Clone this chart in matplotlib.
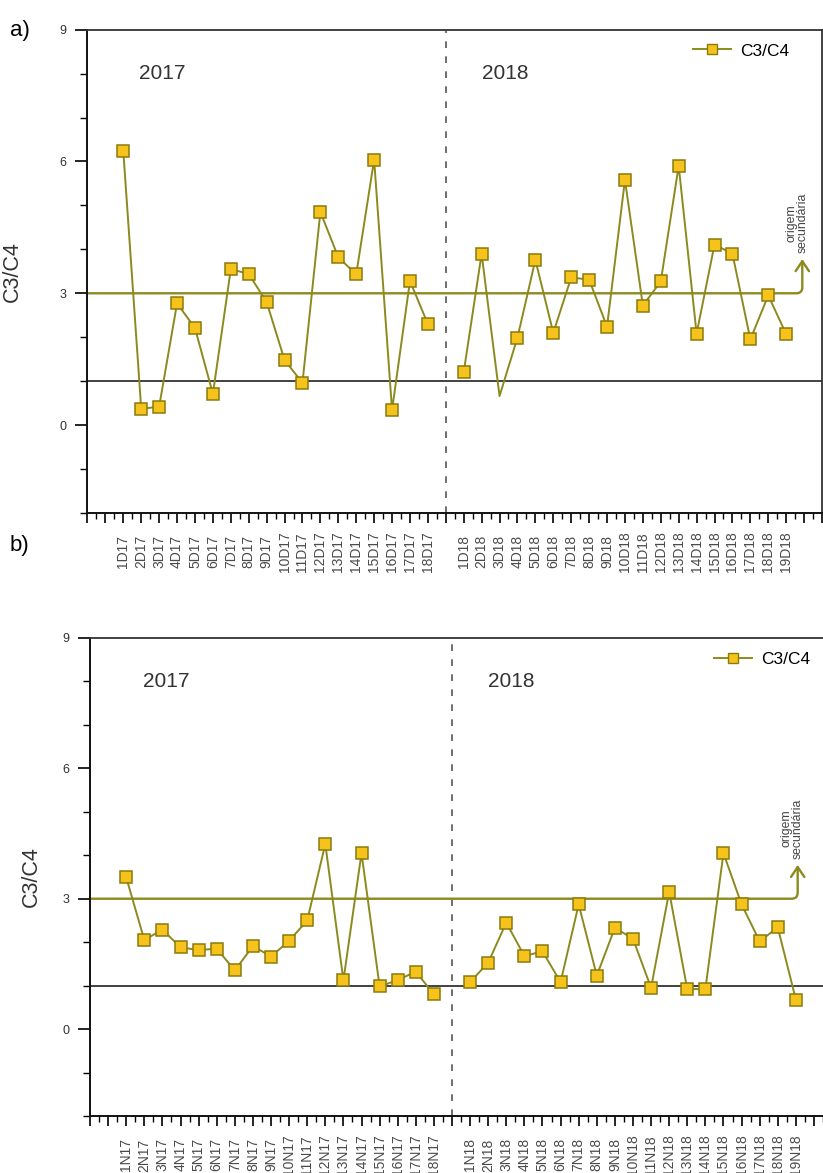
import numpy as np
import matplotlib
matplotlib.use('Agg')
import matplotlib.pyplot as plt
from matplotlib.lines import Line2D

plt.rcParams['font.family'] = ['Liberation Sans', 'DejaVu Sans']

# panel a) - D samples
labels_a_2017 = [f'{i}D17' for i in range(1, 19)]
labels_a_2018 = [f'{i}D18' for i in range(1, 20)]
values_a_2017 = [6.23, 0.37, 0.42, 2.77, 2.21, 0.71, 3.55, 3.44, 2.80, 1.48,
                 0.96, 4.85, 3.82, 3.43, 6.04, 0.34, 3.28, 2.30]
values_a_2018 = [1.20, 3.90, 0.66, 1.99, 3.76, 2.10, 3.36, 3.31, 2.24, 5.58,
                 2.72, 3.27, 5.90, 2.08, 4.11, 3.90, 1.95, 2.95, 2.07]
no_marker_a = ['3D18']

# panel b) - N samples
labels_b_2017 = [f'{i}N17' for i in range(1, 19)]
labels_b_2018 = [f'{i}N18' for i in range(1, 20)]
values_b_2017 = [3.49, 2.05, 2.29, 1.88, 1.82, 1.85, 1.35, 1.91, 1.67, 2.03,
                 2.50, 4.26, 1.12, 4.05, 0.98, 1.13, 1.32, 0.80]
values_b_2018 = [1.08, 1.53, 2.45, 1.68, 1.79, 1.08, 2.87, 1.23, 2.33, 2.08,
                 0.95, 3.16, 0.92, 0.92, 4.05, 2.87, 2.02, 2.34, 0.68]
no_marker_b = []

limit_secondary = 3
limit_reference = 1

OLIVE = '#8c8a1e'
FILL = '#f6c31d'
EDGE = '#8a7b0c'


def draw_series(ax, xs, ys, labels, no_marker):
    ys = np.array(ys, dtype=float)
    ys_mark = ys.copy()
    for lab in no_marker:
        if lab in labels:
            ys_mark[labels.index(lab)] = np.nan
    ax.plot(xs, ys, color=OLIVE, lw=1.4, zorder=3)
    ax.plot(xs, ys_mark, ls='none', marker='s', ms=9, mfc=FILL, mec=EDGE,
            mew=1.1, zorder=4)


def draw_panel(ax, labels17, vals17, labels18, vals18, no_marker,
               arrow_x, label_x, legend_anchor):
    x17 = np.arange(len(vals17)) + 2
    x18 = np.arange(len(vals18)) + len(vals17) + 3
    sep = len(vals17) + 2

    ax.set_xlim(0, 41)
    ax.set_ylim(-2, 9)

    ax.axhline(limit_reference, color='#333333', lw=1.3, zorder=1)
    ax.annotate('', xy=(arrow_x, 3.78), xytext=(0, limit_secondary),
                arrowprops=dict(arrowstyle='->,head_length=0.45,head_width=0.3',
                                connectionstyle='angle,angleA=0,angleB=90,rad=6',
                                color=OLIVE, lw=1.7, shrinkA=0, shrinkB=0,
                                mutation_scale=16),
                zorder=2)
    ax.text(arrow_x - 0.3, 3.92, 'origem\nsecundária', rotation=90,
            ha='center', va='bottom', fontsize=8.8, color='#444444',
            linespacing=0.9)
    ax.axvline(sep, color='#555555', lw=1.2, ls=(0, (4, 5)), zorder=1)

    draw_series(ax, x17, vals17, labels17, no_marker)
    draw_series(ax, x18, vals18, labels18, no_marker)

    ax.text(4.2, 8.0, '2017', fontsize=15, color='#333333', ha='center', va='center')
    ax.text(23.3, 8.0, '2018', fontsize=15, color='#333333', ha='center', va='center')

    handle = Line2D([], [], color=OLIVE, lw=1.4, marker='s', ms=7.5,
                    mfc=FILL, mec=EDGE, mew=1.0)
    ax.legend([handle], ['C3/C4'], loc='center right', bbox_to_anchor=legend_anchor,
              frameon=False, fontsize=12.5, handlelength=2.2, handletextpad=0.5,
              borderpad=0, borderaxespad=0)

    ticks = np.arange(0, 42)
    tick_labels = [''] * len(ticks)
    for x, lab in zip(np.concatenate([x17, x18]), labels17 + labels18):
        tick_labels[int(x)] = lab
    ax.set_xticks(ticks)
    ax.set_xticklabels(tick_labels, rotation=90, fontsize=10, color='#4a4a4a')
    for t in ax.get_xticklabels():
        t.set_va('center')
    ax.set_xticks(np.arange(0.5, 41, 1), minor=True)
    ax.tick_params(axis='x', which='major', length=7, width=1.2, pad=21)
    ax.tick_params(axis='x', which='minor', length=4, width=1.0)

    ax.set_yticks([0, 3, 6, 9])
    ax.set_yticks(np.arange(-2, 10, 1), minor=True)
    ax.tick_params(axis='y', which='major', length=9, width=1.2, pad=6,
                   labelsize=9, labelcolor='#333333')
    ax.tick_params(axis='y', which='minor', length=5, width=1.0)

    ax.set_ylabel('C3/C4', fontsize=15.5, color='#333333')
    ax.yaxis.set_label_coords(label_x, 0.5)

    for side in ['left', 'bottom']:
        ax.spines[side].set_color('#111111')
        ax.spines[side].set_linewidth(1.4)
    for side in ['top', 'right']:
        ax.spines[side].set_color('#333333')
        ax.spines[side].set_linewidth(1.3)


fig = plt.figure(figsize=(8.23, 11.73), dpi=100)

ax_a = fig.add_axes([0.1063, 0.5627, 0.8925, 0.412])
draw_panel(ax_a, labels_a_2017, values_a_2017, labels_a_2018, values_a_2018,
           no_marker_a, arrow_x=39.9, label_x=-0.088, legend_anchor=(0.955, 0.956))

ax_b = fig.add_axes([0.1094, 0.0486, 0.9016, 0.4075])
draw_panel(ax_b, labels_b_2017, values_b_2017, labels_b_2018, values_b_2018,
           no_marker_b, arrow_x=39.1, label_x=-0.065, legend_anchor=(0.970, 0.956))

fig.text(0.012, 0.974, 'a)', fontsize=16, ha='left', va='center')
fig.text(0.012, 0.535, 'b)', fontsize=16, ha='left', va='center')

fig.savefig('out.png', dpi=100)
